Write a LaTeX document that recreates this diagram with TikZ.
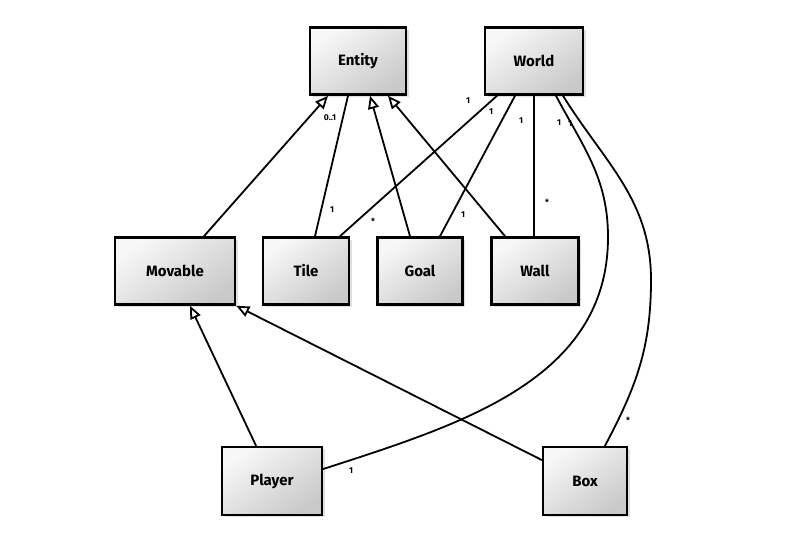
\documentclass[tikz,border=0pt]{standalone}
\usepackage{fontspec}
\setmainfont{Fira Sans}
\usetikzlibrary{arrows.meta,shadows}
\begin{document}
\begin{tikzpicture}[x=1pt,y=1pt,
  cls/.style={draw=black, line width=2.6pt, minimum height=67pt, inner sep=0pt,
    shading=axis, top color=gray!6, bottom color=gray!42, shading angle=35,
    drop shadow={opacity=0.25, shadow xshift=2.5pt, shadow yshift=-2.5pt},
    font=\fontsize{15}{17}\selectfont\bfseries},
  link/.style={line width=1.8pt, line cap=round},
  inh/.style={link, -{Triangle[open, length=13pt, width=11pt, fill=white, line width=1.8pt]}},
  mult/.style={font=\fontsize{8.5}{10}\selectfont\bfseries, inner sep=0pt}
]
\useasboundingbox (0,0) rectangle (801,548);
\fill[white] (0,0) rectangle (801,548);

\node[cls, minimum width=96pt]  (entity)  at (358,487) {Entity};
\node[cls, minimum width=98pt]  (world)   at (534,487) {World};
\node[cls, minimum width=120pt] (movable) at (175,277) {Movable};
\node[cls, minimum width=86pt]  (tile)    at (306,277) {Tile};
\node[cls, minimum width=85pt]  (goal)    at (420,277) {Goal};
\node[cls, minimum width=87pt]  (wall)    at (535,277) {Wall};
\node[cls, minimum width=100pt, minimum height=68pt] (player) at (272,67) {Player};
\node[cls, minimum width=84pt, minimum height=68pt]  (box)    at (585,67) {Box};

% inheritance
\draw[inh] ([xshift=29pt]movable.north) -- ([xshift=-30pt]entity.south);
\draw[inh] ([xshift=-10pt]goal.north) -- ([xshift=12pt]entity.south);
\draw[inh] ([xshift=-30pt]wall.north) -- ([xshift=30pt]entity.south);
\draw[inh] ([xshift=-16pt]player.north) -- ([xshift=15pt]movable.south);
\draw[inh] ([yshift=21pt]box.west) -- (movable.south east);

% associations
\draw[link] ([xshift=9pt]tile.north) -- ([xshift=-10pt]entity.south);
\draw[link] ([xshift=-37pt]world.south) -- ([xshift=34pt]tile.north);
\draw[link] ([xshift=-19pt]world.south) -- ([xshift=20pt]goal.north);
\draw[link] (world.south) -- (wall.north -| world.south);
\coordinate (c1) at (608,311);
\coordinate (c2) at (651,268);
\draw[link] ([xshift=22pt]world.south) to[out=-62,in=90] (c1)
   to[out=-90,in=18] ([yshift=12pt]player.east);
\draw[link] ([xshift=29pt]world.south) to[out=-58,in=90] (c2)
   to[out=-90,in=62] ([xshift=20pt]box.north);

% multiplicities
\node[mult] (m1)  at (330,430) {0..1};
\node[mult] (m2)  at (332,338) {1};
\node[mult] (m3)  at (468,447) {1};
\node[mult] (m4)  at (373,327) {*};
\node[mult] (m5)  at (491,436) {1};
\node[mult] (m6)  at (463,333) {1};
\node[mult] (m7)  at (521,427) {1};
\node[mult] (m8)  at (547,346) {*};
\node[mult] (m9)  at (559,425) {1};
\node[mult] (m10) at (570,424) {1};
\node[mult] (m11) at (351,77) {1};
\node[mult] (m12) at (628,128) {*};
\end{tikzpicture}
\end{document}
